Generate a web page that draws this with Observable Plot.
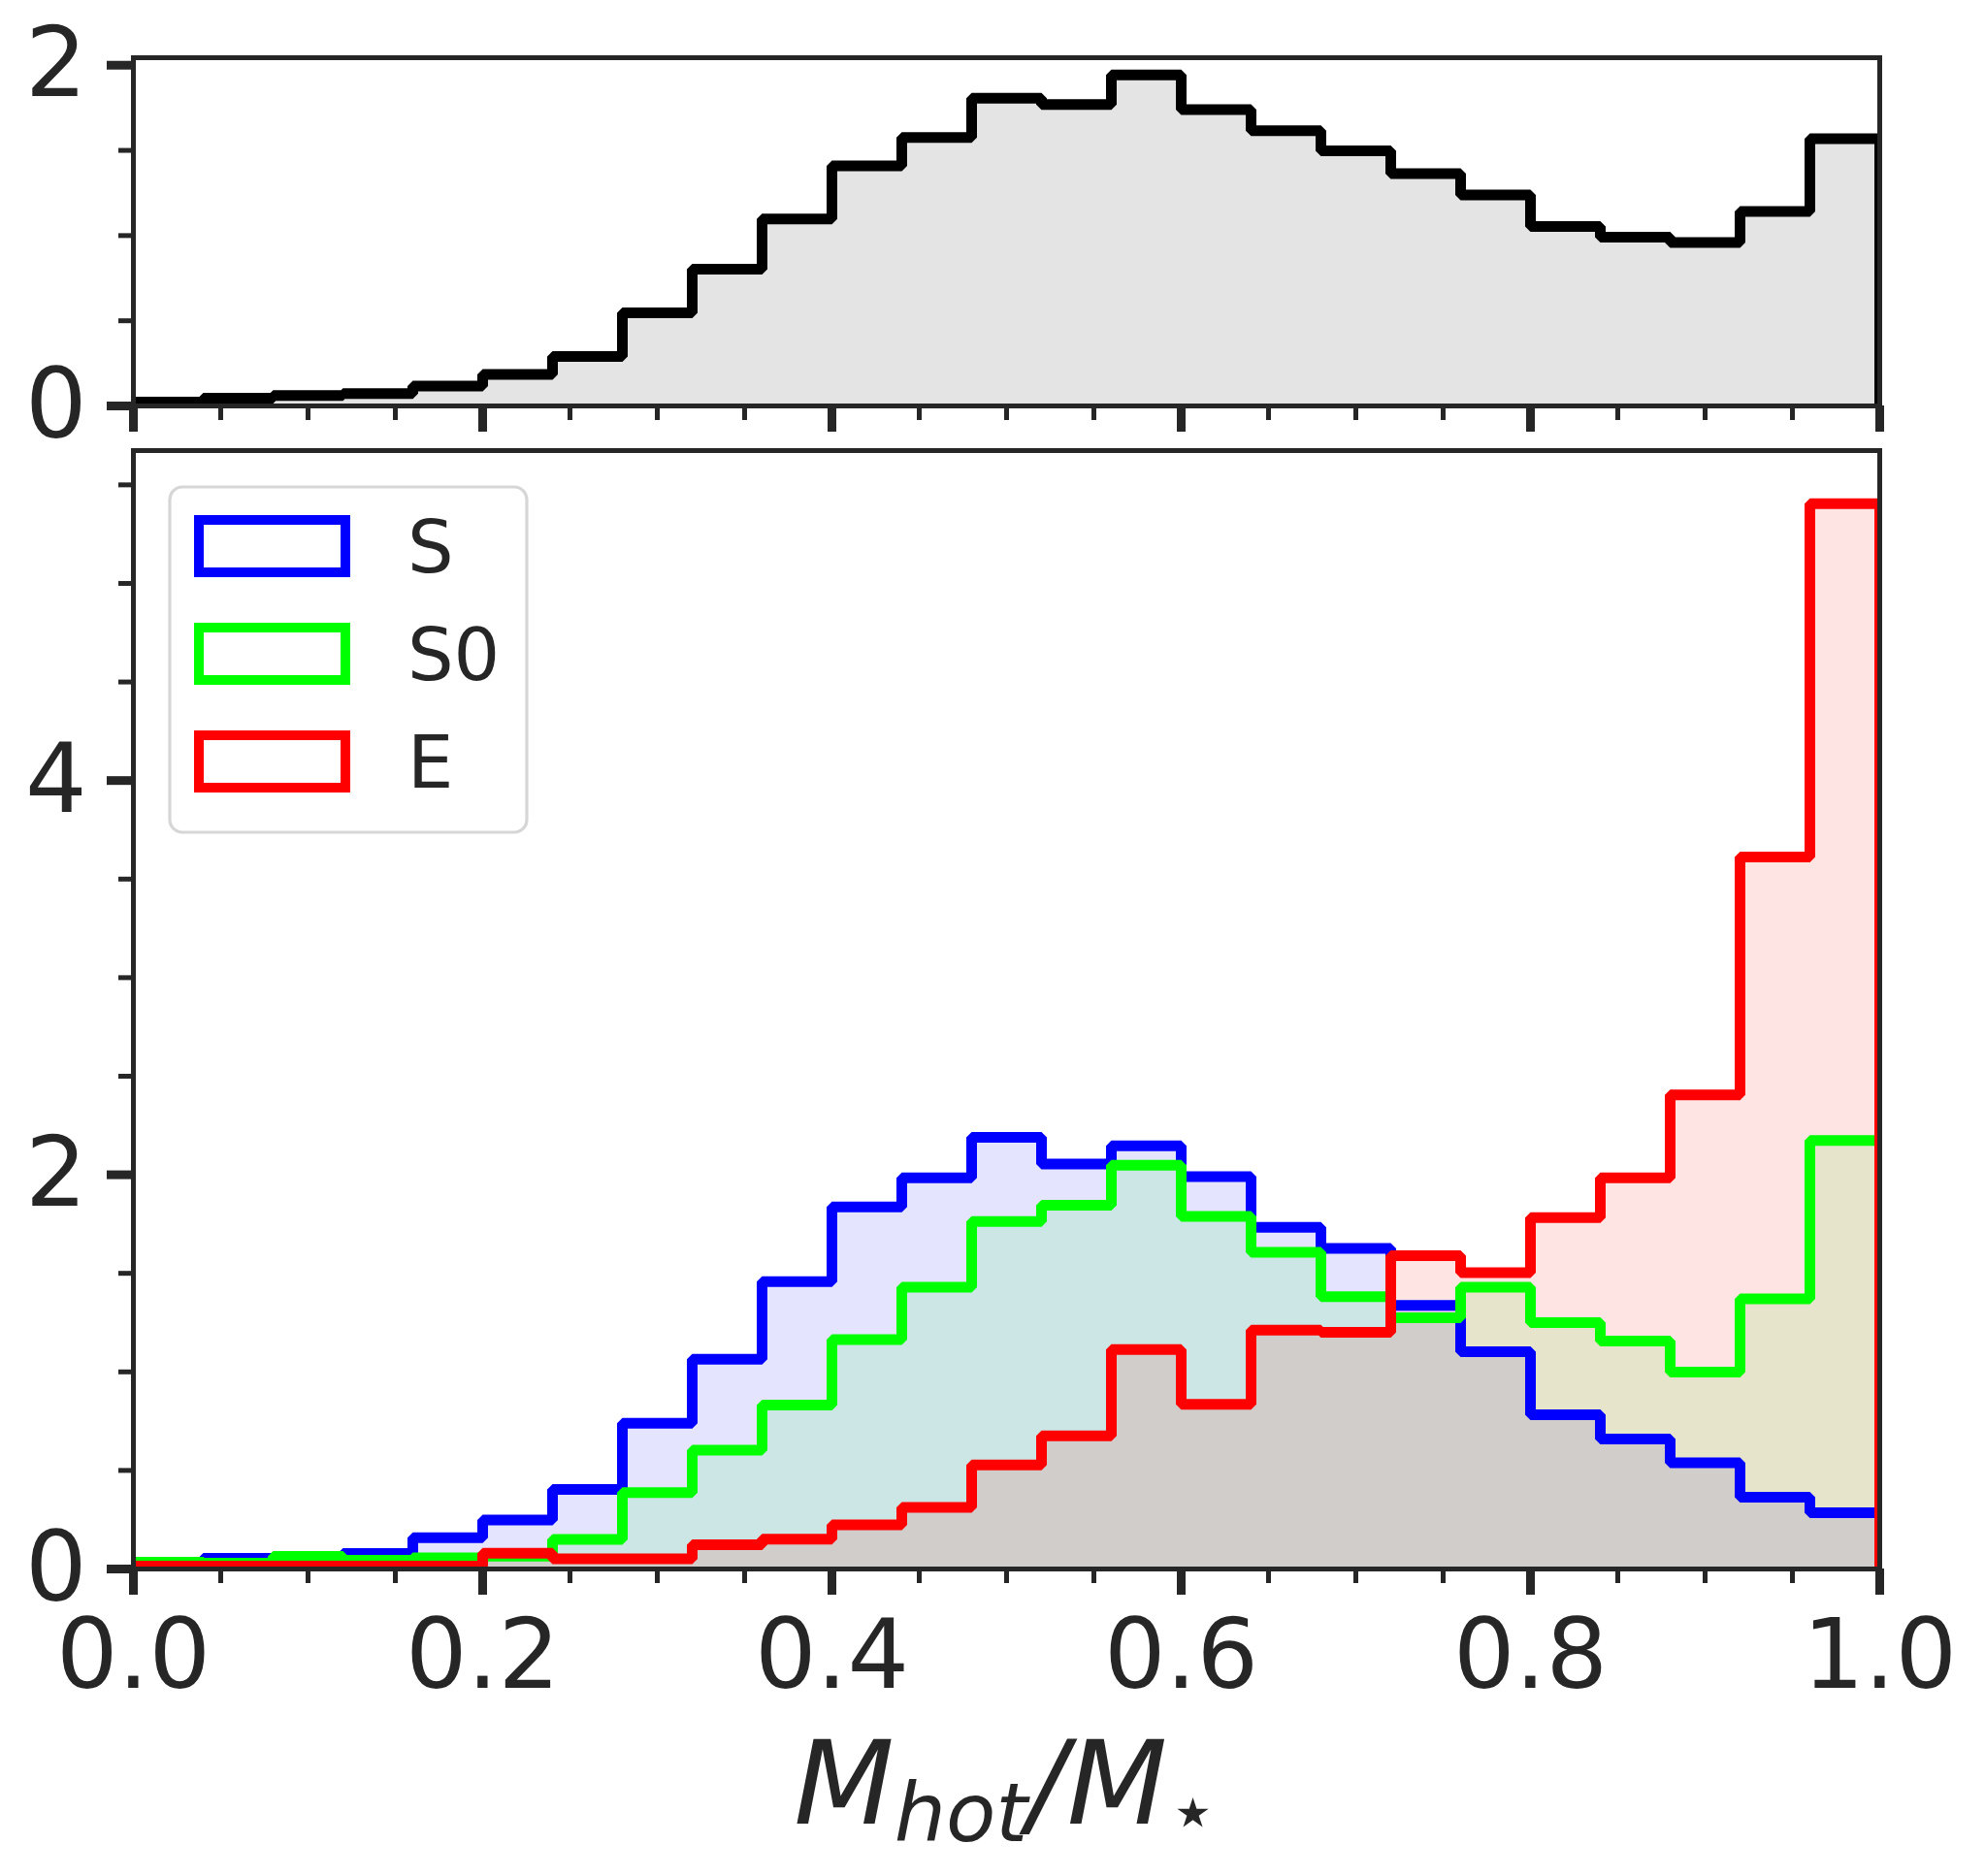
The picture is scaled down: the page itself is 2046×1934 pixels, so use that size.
<!DOCTYPE html>
<html>
<head>
<meta charset="utf-8">
<script src="https://cdn.jsdelivr.net/npm/d3@7"></script>
<script src="https://cdn.jsdelivr.net/npm/@observablehq/plot@0.6"></script>
<style>
  html, body { margin: 0; padding: 0; background: #ffffff; }
  #wrap { position: relative; width: 2046px; height: 1934px; overflow: hidden; }
  #top, #bottom { position: absolute; left: 0; }
  #top { top: 0; }
  #bottom { top: 460px; }
  svg { overflow: visible; }
</style>
</head>
<body>
<div id="wrap"><div id="top"></div><div id="bottom"></div></div>
<script>
// ---- data (bin starts, 25 bins of M_hot/M_star, normalised densities) ----
const binStart = [0.00, 0.04, 0.08, 0.12, 0.16, 0.20, 0.24, 0.28, 0.32, 0.36,
                  0.40, 0.44, 0.48, 0.52, 0.56, 0.60, 0.64, 0.68, 0.72, 0.76,
                  0.80, 0.84, 0.88, 0.92, 0.96];
const binEnd = 1.0;

const totalDensity = [0.023, 0.045, 0.061, 0.072, 0.117, 0.185, 0.290, 0.547, 0.803, 1.097,
                      1.409, 1.576, 1.807, 1.769, 1.943, 1.739, 1.616, 1.497, 1.364, 1.238,
                      1.054, 0.991, 0.960, 1.142, 1.568];

const sDensity  = [0.012, 0.054, 0.040, 0.079, 0.159, 0.248, 0.404, 0.740, 1.064, 1.458,
                   1.837, 1.984, 2.190, 2.054, 2.147, 1.991, 1.734, 1.627, 1.337, 1.102,
                   0.782, 0.659, 0.539, 0.364, 0.285];

const s0Density = [0.034, 0.030, 0.064, 0.044, 0.056, 0.065, 0.150, 0.387, 0.603, 0.832,
                   1.164, 1.430, 1.763, 1.845, 2.049, 1.789, 1.607, 1.381, 1.275, 1.429,
                   1.250, 1.157, 0.999, 1.371, 2.174];

const eDensity  = [0.015, 0.015, 0.015, 0.015, 0.015, 0.080, 0.052, 0.052, 0.123, 0.151,
                   0.224, 0.313, 0.528, 0.676, 1.114, 0.835, 1.212, 1.201, 1.590, 1.504,
                   1.783, 1.985, 2.405, 3.612, 5.404];

const seriesNames  = ["S", "S0", "E"];
const seriesColors = ["#0000ff", "#00ff00", "#ff0000"];
const seriesValues = [sDensity, s0Density, eDensity];

const xMajorTicks = [0.0, 0.2, 0.4, 0.6, 0.8, 1.0];
const xMinorTicks = [0.05, 0.10, 0.15, 0.25, 0.30, 0.35, 0.45, 0.50, 0.55,
                     0.65, 0.70, 0.75, 0.85, 0.90, 0.95];
const topYMajor = [0, 2];
const topYMinor = [0.5, 1.0, 1.5];
const botYMajor = [0, 2, 4];
const botYMinor = [0.5, 1.0, 1.5, 2.5, 3.0, 3.5, 4.5, 5.0, 5.5];
const topYMax = 2.044;
const botYMax = 5.674;

// ---- helpers ----
function steps(vals) {
  const pts = [{x: binStart[0], y: 0}];
  vals.forEach((v, i) => pts.push({x: binStart[i], y: v}));
  pts.push({x: binEnd, y: vals[vals.length - 1]});
  pts.push({x: binEnd, y: 0});
  return pts;
}

const ink = "#262626";
const W = 2046, ML = 137, MR = 109;
const baseStyle = {
  fontFamily: "'DejaVu Sans', sans-serif",
  fontSize: "100px",
  color: ink,
  background: "transparent",
  overflow: "visible"
};
const LW = 11;

function fillMark(vals, color) {
  return Plot.areaY(steps(vals), {x: "x", y: "y", curve: "step-after",
    fill: color, fillOpacity: 0.105, clip: true});
}
function lineMark(vals, color) {
  return Plot.line(steps(vals), {x: "x", y: "y", curve: "step-after",
    stroke: color, strokeWidth: LW, strokeLinejoin: "miter", strokeLinecap: "butt", clip: true});
}
function axes(yMajor, yMinor, showXLabels) {
  return [
    Plot.frame({stroke: ink, strokeWidth: 5}),
    Plot.axisX(xMajorTicks, {tickSize: 27, strokeWidth: 9, tickPadding: 24,
      tickFormat: showXLabels ? (d => d.toFixed(1)) : (() => ""), label: null}),
    Plot.axisX(xMinorTicks, {tickSize: 15, strokeWidth: 5, tickFormat: () => "", label: null}),
    Plot.axisY(yMajor, {tickSize: 27, strokeWidth: 9, tickPadding: 21,
      tickFormat: d => String(d), label: null}),
    Plot.axisY(yMinor, {tickSize: 15, strokeWidth: 5, tickFormat: () => "", label: null})
  ];
}

// ---- top panel: all galaxies ----
const topPlot = Plot.plot({
  width: W, height: 460,
  marginLeft: ML, marginRight: MR, marginTop: 59, marginBottom: 42,
  style: baseStyle,
  x: {domain: [0, 1], label: null},
  y: {domain: [0, topYMax], label: null},
  marks: [
    fillMark(totalDensity, "#000000"),
    lineMark(totalDensity, "#000000"),
    ...axes(topYMajor, topYMinor, false)
  ]
});
document.getElementById("top").appendChild(topPlot);

// ---- bottom panel: by morphology ----
const botPlot = Plot.plot({
  width: W, height: 1474,
  marginLeft: ML, marginRight: MR, marginTop: 4, marginBottom: 317,
  style: baseStyle,
  x: {domain: [0, 1], label: null},
  y: {domain: [0, botYMax], label: null},
  marks: [
    ...seriesValues.map((v, i) => fillMark(v, seriesColors[i])),
    ...seriesValues.map((v, i) => lineMark(v, seriesColors[i])),
    ...axes(botYMajor, botYMinor, true)
  ]
});
document.getElementById("bottom").appendChild(botPlot);

// ---- legend (inside bottom panel, upper left) ----
const svg = d3.select(botPlot);
const leg = svg.append("g").attr("class", "legend");
leg.append("rect")
  .attr("x", 175).attr("y", 42).attr("width", 368).attr("height", 356)
  .attr("rx", 13).attr("ry", 13)
  .attr("fill", "#ffffff").attr("fill-opacity", 0.8)
  .attr("stroke", "#cccccc").attr("stroke-opacity", 0.8).attr("stroke-width", 3.2);
seriesNames.forEach((name, i) => {
  const cy = 103 + i * 111;
  leg.append("rect")
    .attr("x", 205).attr("y", cy - 27).attr("width", 151).attr("height", 54)
    .attr("fill", "none").attr("stroke", seriesColors[i]).attr("stroke-width", 10)
    .attr("stroke-linejoin", "miter");
  leg.append("text")
    .attr("x", 420).attr("y", cy + 27)
    .attr("fill", ink)
    .style("font-family", "'DejaVu Sans', sans-serif")
    .style("font-size", "75px")
    .attr("text-anchor", "start")
    .text(name);
});

// ---- x-axis title: M_hot / M_star ----
const xt = svg.append("text")
  .attr("x", (ML + (W - MR)) / 2).attr("y", 1420)
  .attr("text-anchor", "middle")
  .attr("fill", ink)
  .style("font-family", "'DejaVu Sans', sans-serif")
  .style("font-size", "120px")
  .style("font-style", "italic");
xt.append("tspan").text("M");
xt.append("tspan").attr("dy", 18).style("font-size", "84px").text("hot");
xt.append("tspan").attr("dy", -18).text("/M");
xt.append("tspan").attr("dy", 16).style("font-size", "84px").style("font-style", "normal").text("⋆");
</script>
</body>
</html>
